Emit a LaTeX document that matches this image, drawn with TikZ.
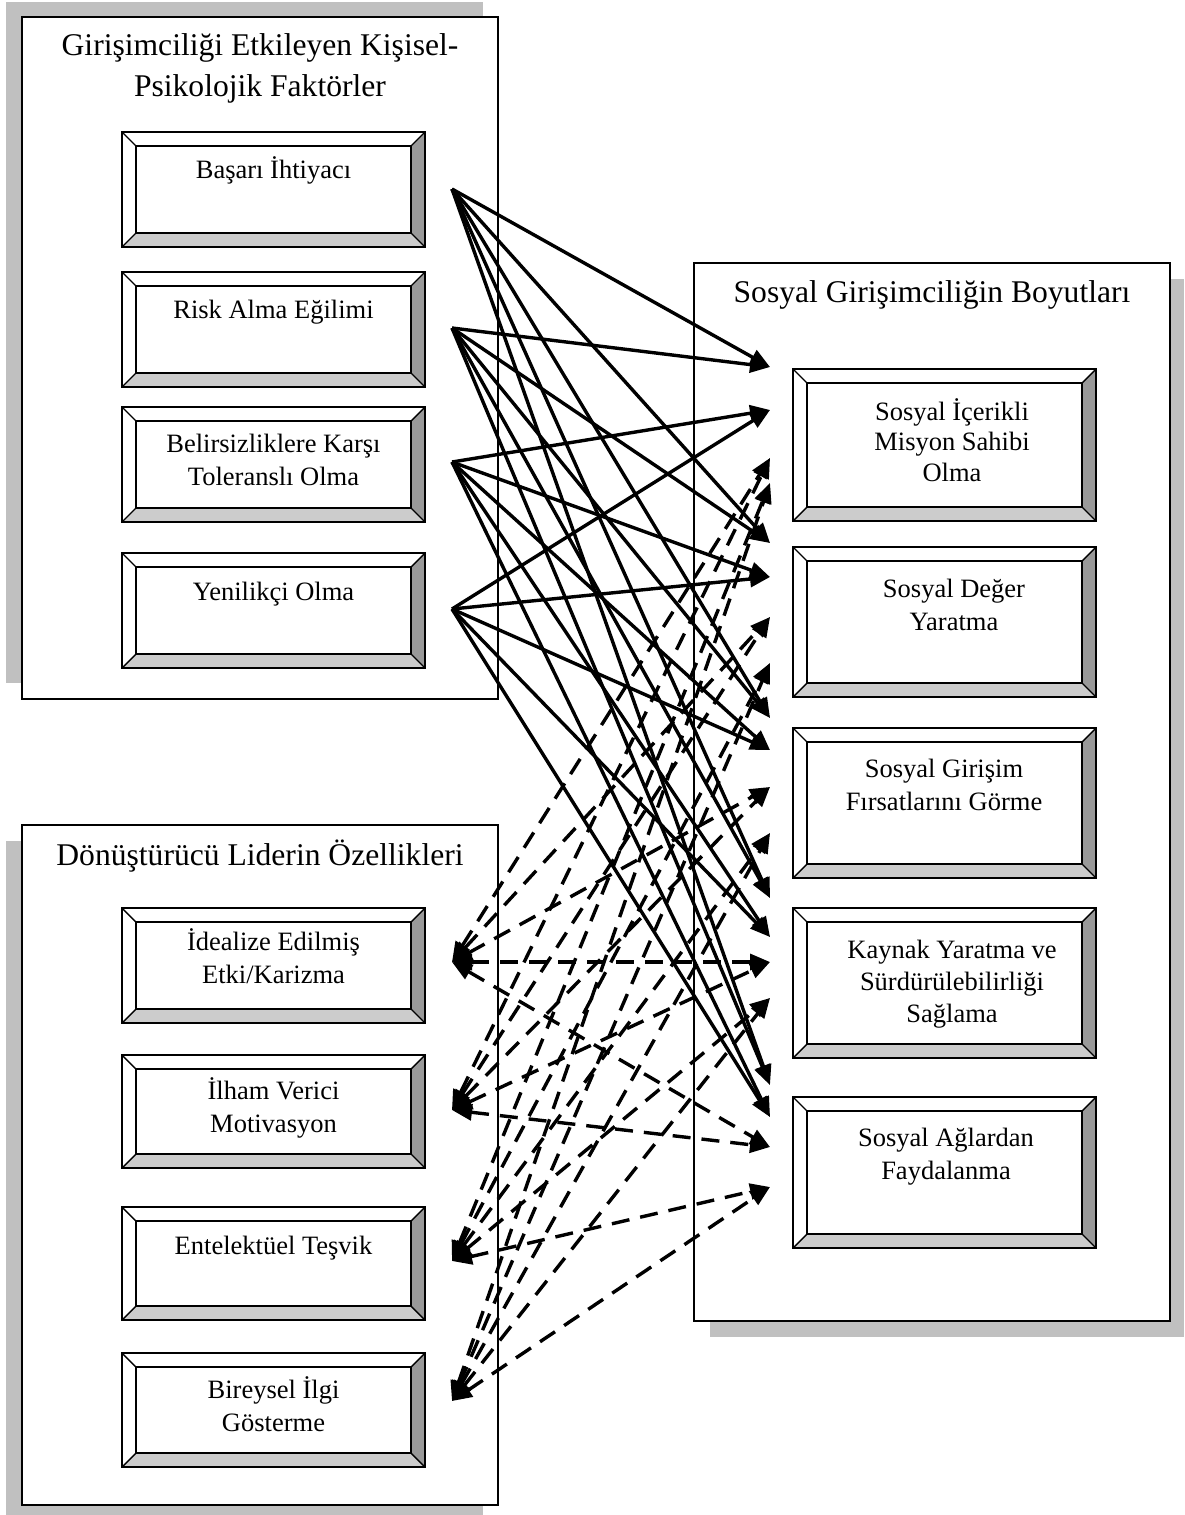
\documentclass[tikz,border=0pt]{standalone}
\usepackage{fontspec}
\setmainfont{Liberation Serif}
\usetikzlibrary{arrows.meta}

\definecolor{shadowgray}{HTML}{C0C0C0}
\definecolor{bevelside}{HTML}{999999}
\definecolor{bevelfoot}{HTML}{CCCCCC}

% multi-line nodes are placed by the baseline of their last line
\tikzset{
  panel/.style={draw=black, line width=2pt, fill=white},
  panelshadow/.style={fill=shadowgray, draw=none},
  paneltitle/.style={font=\fontsize{31.6}{41}\selectfont, align=center, inner sep=0pt, anchor=base},
  boxtext/.style={font=\fontsize{26.5}{32.5}\selectfont, align=center, inner sep=0pt, anchor=base},
  link/.style={line width=3.4pt, -{Triangle[length=20pt,width=16pt]}},
  duallink/.style={line width=3.4pt, dash pattern=on 18pt off 11pt,
    {Triangle[length=20pt,width=16pt]}-{Triangle[length=20pt,width=16pt]}},
}

% bevelled button: #1 name, #2 left, #3 top, #4 right, #5 bottom
\newcommand\bevelbox[5]{%
  \fill[white] (#2,#3) rectangle (#4,#5);
  \fill[bevelside] (#4,#3) -- (#4,#5) -- (#4-14,#5-14) -- (#4-14,#3+14) -- cycle;
  \fill[bevelfoot] (#2,#5) -- (#4,#5) -- (#4-14,#5-14) -- (#2+14,#5-14) -- cycle;
  \draw[line width=1.4pt] (#2+14,#3+14) rectangle (#4-14,#5-14);
  \draw[line width=1.4pt] (#2,#3) -- (#2+14,#3+14)
                          (#4,#3) -- (#4-14,#3+14)
                          (#2,#5) -- (#2+14,#5-14)
                          (#4,#5) -- (#4-14,#5-14);
  \draw[line width=2pt] (#2,#3) rectangle (#4,#5);
  \coordinate (#1) at ({(#2+#4)/2},{(#3+#5)/2});
}

\begin{document}
\begin{tikzpicture}[x=1pt,y=-1pt]
\useasboundingbox (0,0) rectangle (1184,1515);

% ---- panels with their drop shadows
\fill[panelshadow] (6,2) rectangle (483,683);
\draw[panel] (22,17) rectangle (498,699);
\fill[panelshadow] (6,841) rectangle (483,1515);
\draw[panel] (22,825) rectangle (498,1505);
\fill[panelshadow] (710,279) rectangle (1184,1337);
\draw[panel] (694,263) rectangle (1170,1321);

\node[paneltitle] (ttop) at (260,96) {Girişimciliği Etkileyen Kişisel-\\Psikolojik Faktörler};
\node[paneltitle] (tright) at (932,302) {Sosyal Girişimciliğin Boyutları};
\node[paneltitle] (tbottom) at (260,865) {Dönüştürücü Liderin Özellikleri};

% ---- personal-psychological factors
\bevelbox{p1}{122}{132}{425}{247}
\bevelbox{p2}{122}{272}{425}{387}
\bevelbox{p3}{122}{407}{425}{522}
\bevelbox{p4}{122}{553}{425}{668}
\node[boxtext] (p1t) at (273.5,178) {Başarı İhtiyacı};
\node[boxtext] (p2t) at (273.5,318) {Risk Alma Eğilimi};
\node[boxtext] (p3t) at (273.5,485) {Belirsizliklere Karşı\\Toleranslı Olma};
\node[boxtext] (p4t) at (273.5,600) {Yenilikçi Olma};

% ---- transformational leader traits
\bevelbox{l1}{122}{908}{425}{1023}
\bevelbox{l2}{122}{1055}{425}{1168}
\bevelbox{l3}{122}{1207}{425}{1320}
\bevelbox{l4}{122}{1353}{425}{1467}
\node[boxtext] (l1t) at (273.5,983) {İdealize Edilmiş\\Etki/Karizma};
\node[boxtext] (l2t) at (273.5,1132) {İlham Verici\\Motivasyon};
\node[boxtext] (l3t) at (273.5,1254) {Entelektüel Teşvik};
\node[boxtext] (l4t) at (273.5,1431) {Bireysel İlgi\\Gösterme};

% ---- dimensions of social entrepreneurship
\bevelbox{r1}{793}{369}{1096}{521}
\bevelbox{r2}{793}{547}{1096}{697}
\bevelbox{r3}{793}{728}{1096}{878}
\bevelbox{r4}{793}{908}{1096}{1058}
\bevelbox{r5}{793}{1097}{1096}{1248}
\node[boxtext, font=\fontsize{26.5}{30.5}\selectfont] (r1t) at (952,481) {Sosyal İçerikli\\Misyon Sahibi\\Olma};
\node[boxtext] (r2t) at (954,630) {Sosyal Değer\\Yaratma};
\node[boxtext] (r3t) at (944,810) {Sosyal Girişim\\Fırsatlarını Görme};
\node[boxtext, font=\fontsize{26.5}{32}\selectfont] (r4t) at (952,1022) {Kaynak Yaratma ve\\Sürdürülebilirliği\\Sağlama};
\node[boxtext] (r5t) at (946,1179) {Sosyal Ağlardan\\Faydalanma};

% ---- connector ends
\coordinate (s1) at (452,189);
\coordinate (s2) at (452,328);
\coordinate (s3) at (452,462);
\coordinate (s4) at (452,609);
\coordinate (d1) at (452,962);
\coordinate (d2) at (452,1110);
\coordinate (d3) at (452,1261);
\coordinate (d4) at (452,1401);

\coordinate (r1a) at (770,367);  \coordinate (r1b) at (770,410);
\coordinate (r1c) at (770,458);  \coordinate (r1d) at (770,483);
\coordinate (r2a) at (770,543);  \coordinate (r2b) at (770,577);
\coordinate (r2c) at (770,617);  \coordinate (r2d) at (770,663);
\coordinate (r3a) at (770,718);  \coordinate (r3b) at (770,750);
\coordinate (r3c) at (770,787);  \coordinate (r3d) at (770,833);
\coordinate (r4a) at (770,898);  \coordinate (r4b) at (770,937);
\coordinate (r4c) at (770,962);  \coordinate (r4d) at (770,998);
\coordinate (r5a) at (770,1085); \coordinate (r5b) at (770,1117);
\coordinate (r5c) at (770,1147); \coordinate (r5d) at (770,1187);

% ---- influences of the personal factors
\foreach \k in {1,...,5}{
  \draw[link] (s1) -- (r\k a);
  \draw[link] (s2) -- (r\k a);
  \draw[link] (s3) -- (r\k b);
  \draw[link] (s4) -- (r\k b);
}

% ---- mutual relations with the leader traits
\foreach \k in {1,...,5}{
  \draw[duallink] (d1) -- (r\k c);
  \draw[duallink] (d2) -- (r\k c);
  \draw[duallink] (d3) -- (r\k d);
  \draw[duallink] (d4) -- (r\k d);
}
\end{tikzpicture}
\end{document}
